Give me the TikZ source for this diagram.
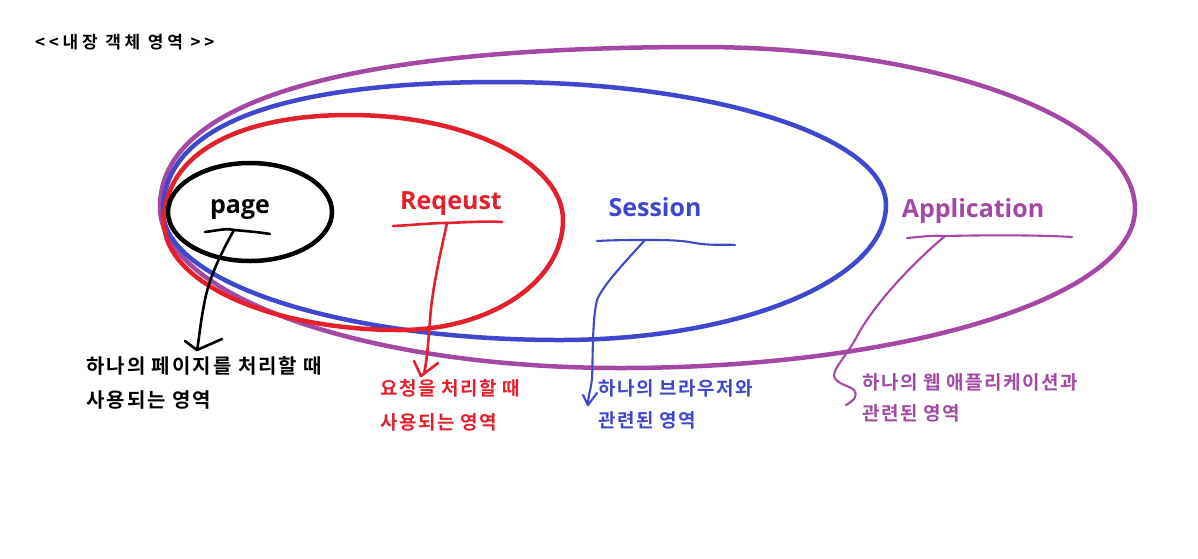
\documentclass[tikz,border=0pt]{standalone}
\usepackage{fontspec}
\newfontfamily\kr{Noto Sans CJK KR Bold}[LetterSpace=8]
\newfontfamily\krb{Noto Sans CJK KR Bold}[LetterSpace=10]
\newfontfamily\krt{Noto Sans CJK KR Bold}[LetterSpace=22]
\newfontfamily\lat{Open Sans}
\definecolor{pblack}{HTML}{000000}
\definecolor{pred}{HTML}{E3202B}
\definecolor{pblue}{HTML}{3F48CC}
\definecolor{ppurp}{HTML}{A349A4}
\tikzset{
  ring/.style={line width=4.5pt},
  lbl/.style={inner sep=0pt, anchor=base, font=\lat\bfseries\fontsize{25}{30}\selectfont},
  desc/.style={inner sep=0pt, anchor=north west, align=left},
  uline/.style={line width=2.6pt, line cap=round, line join=round},
  pen/.style={line width=2.6pt, line cap=round, line join=round},
  thinpen/.style={line width=2.1pt, line cap=round, line join=round},
}
\begin{document}
\begin{tikzpicture}[x=1pt,y=-1pt]
\useasboundingbox[fill=white] (0,0) rectangle (1198,558);

% title
\node[inner sep=0pt, anchor=west, font=\krt\fontsize{17}{20}\selectfont] (title) at (35,42) {<<내장 객체 영역 >>};

% hand-drawn ellipses
\draw[ppurp, ring] (160,207) .. controls (160,101) and (344,47) .. (700,47)
  .. controls (940,47) and (1135,120) .. (1135,209)
  .. controls (1135,297) and (904,368) .. (620,368)
  .. controls (366,368) and (160,296) .. cycle;
\draw[pblue, ring] (163,211) .. controls (163,126) and (278,82) .. (500,82)
  .. controls (713,82) and (886,137) .. (886,205)
  .. controls (886,280) and (740,340) .. (560,340)
  .. controls (341,340) and (163,282) .. cycle;
\draw[pred, ring] (164,222) .. controls (164,156) and (234,115) .. (350,115)
  .. controls (468,115) and (563,163) .. (563,220)
  .. controls (563,282) and (490,330) .. (400,330)
  .. controls (269,330) and (164,282) .. cycle;
\draw[pblack, ring] (250,212) ellipse [x radius=82, y radius=49];

% labels
\node[lbl, text=pblack] (page) at (240,213) {page};
\node[lbl, text=pred] (req) at (451,209) {Reqeust};
\node[lbl, text=pblue] (ses) at (655,216) {Session};
\node[lbl, text=ppurp] (app) at (973,217) {Application};

% descriptions
\node[desc, text=pblack, font=\krb\fontsize{20}{34}\selectfont] (dpage) at (86,356) {하나의 페이지를 처리할 때\\사용되는 영역};
\node[desc, text=pred, font=\kr\fontsize{19}{34}\selectfont] (dreq) at (380,379) {요청을 처리할 때\\사용되는 영역};
\node[desc, text=pblue, font=\kr\fontsize{19}{32}\selectfont] (dses) at (598,379) {하나의 브라우저와\\관련된 영역};
\node[desc, text=ppurp, font=\kr\fontsize{19}{31}\selectfont] (dapp) at (862,373) {하나의 웹 애플리케이션과\\관련된 영역};

% underline anchor points
\coordinate (pk) at (234,230);
\coordinate (rk) at (447,223);
\coordinate (sk) at (645,240);
\coordinate (ak) at (945,236);
\coordinate (pt) at (197,350);
\coordinate (rt) at (424,374);
\coordinate (st) at (588,405);
\coordinate (at) at (846,405);

% underlines
\draw[pblack, uline] (205,232) .. controls (220,230) and (228,228) .. (pk) .. controls (245,231) and (258,232) .. (270,234);
\draw[pred, uline] (393,226) .. controls (415,225) and (430,223) .. (rk) .. controls (470,222) and (490,221) .. (502,222);
\draw[pblue, thinpen] (597,241) .. controls (615,240) and (630,240) .. (sk) .. controls (665,240) and (680,240) .. (695,243) .. controls (712,246) and (725,244) .. (735,245);
\draw[ppurp, thinpen] (907,238) .. controls (920,237) and (932,235) .. (ak) .. controls (990,235) and (1040,235) .. (1072,237);

% connectors
\draw[pblack, pen] (pk) .. controls (220,255) and (208,280) .. (204,305) .. controls (200,325) and (199,340) .. (pt);
\draw[pblack, pen] (185,341) -- (pt) -- (222,339);

\draw[pred, pen] (rk) .. controls (440,255) and (432,290) .. (430,320) .. controls (428,345) and (427,360) .. (rt);
\draw[pred, pen] (414,361) -- (421,376) -- (438,363);

\draw[pblue, thinpen] (sk) .. controls (625,262) and (603,285) .. (597,300) .. controls (592,320) and (593,360) .. (592,378) .. controls (591,390) and (588,395) .. (st);
\draw[pblue, thinpen] (583,395) -- (st) -- (597,393);

\draw[ppurp, thinpen] (ak) .. controls (905,270) and (870,310) .. (855,340) .. controls (843,360) and (834,368) .. (834,376) .. controls (836,384) and (848,385) .. (854,390) .. controls (858,395) and (855,400) .. (at);
\end{tikzpicture}
\end{document}
